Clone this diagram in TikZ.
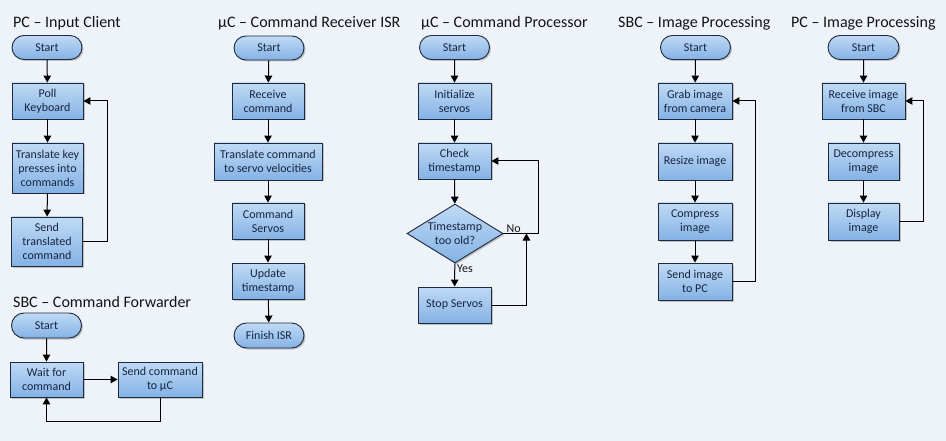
\documentclass[tikz,border=0pt]{standalone}
\usepackage{fontspec}
\setmainfont{Carlito}
\usetikzlibrary{shapes.misc,shapes.geometric,arrows.meta,shadows}
\definecolor{bgc}{HTML}{EEF2F9}
\definecolor{topc}{HTML}{C0DAF5}
\definecolor{botc}{HTML}{84B2E5}
\definecolor{edgec}{HTML}{1F2B3D}
\definecolor{txtc}{HTML}{172540}
\definecolor{titc}{HTML}{141414}
\tikzset{
  base/.style={draw=edgec, line width=0.9pt, top color=topc, bottom color=botc,
    text=txtc, font=\fontsize{12}{14}\selectfont, align=center, inner sep=1pt,
    drop shadow={shadow xshift=1.5pt, shadow yshift=-1.5pt, opacity=0.35, fill=black!60}},
  bx/.style={base, rectangle, minimum width=72pt, minimum height=36pt},
  term/.style={base, rounded rectangle, minimum width=72pt, minimum height=24pt},
  dia/.style={base, diamond, shape aspect=1.63, minimum width=96pt, minimum height=59pt, inner sep=-1.5pt},
  title/.style={anchor=west, text=titc, font=\fontsize{16}{19}\selectfont, inner sep=0pt},
  lbl/.style={text=titc, font=\fontsize{12}{14}\selectfont, inner sep=1pt},
  arr/.style={-{Triangle[length=7pt,width=7.5pt]}, line width=1pt, black},
}
\begin{document}
\begin{tikzpicture}[x=1pt,y=-1pt]
\fill[bgc] (0,0) rectangle (946,441);
\useasboundingbox (0,0) rectangle (946,441);

% ---------- PC - Input Client
\node[title] (t1) at (13,23) {PC -- Input Client};
\node[term] (a0) at (47,47.5) {Start};
\node[bx, minimum width=71pt] (a1) at (47.5,101) {Poll\\Keyboard};
\node[bx, minimum width=71pt, minimum height=50pt] (a2) at (47.5,168) {Translate key\\presses into\\commands};
\node[bx, minimum width=71pt, minimum height=49pt] (a3) at (47,241.5) {Send\\translated\\command};
\draw[arr] (a0) -- (a1);
\draw[arr] (a1) -- (a2);
\draw[arr] (a2) -- (a3);
\draw[arr] (a3.east) -- ([xshift=25pt]a3.east) |- (a1.east);

% ---------- SBC - Command Forwarder
\node[title] (t6) at (13,302) {SBC -- Command Forwarder};
\node[term, minimum height=25pt] (f0) at (46.5,325.5) {Start};
\node[bx, minimum width=73pt, minimum height=35pt] (f1) at (46.5,379.5) {Wait for\\command};
\node[bx, minimum width=84pt, minimum height=35pt] (f2) at (160,379.5) {Send command\\to µC};
\draw[arr] (f0) -- (f1);
\draw[arr] (f1) -- (f2);
\draw[arr] (f2.south) -- ([yshift=-24pt]f2.south) -| (f1.south);

% ---------- uC - Command Receiver ISR
\node[title] (t2) at (218,23) {µC -- Command Receiver ISR};
\node[term] (b0) at (269,48) {Start};
\node[bx] (b1) at (268,101) {Receive\\command};
\node[bx, minimum width=108pt, minimum height=37pt] (b2) at (268,161.5) {Translate command\\to servo velocities};
\node[bx] (b3) at (268,221) {Command\\Servos};
\node[bx] (b4) at (268,281) {Update\\timestamp};
\node[term, minimum height=25pt] (b5) at (269,335.5) {Finish ISR};
\draw[arr] (b0) -- (b1);
\draw[arr] (b1) -- (b2);
\draw[arr] (b2) -- (b3);
\draw[arr] (b3) -- (b4);
\draw[arr] (b4) -- (b5);

% ---------- uC - Command Processor
\node[title] (t3) at (421,23) {µC -- Command Processor};
\node[term] (c0) at (454.5,47.5) {Start};
\node[bx, minimum width=73pt] (c1) at (454.5,101) {Initialize\\servos};
\node[bx, minimum width=73pt] (c2) at (454.5,161) {Check\\timestamp};
\node[dia] (c3) at (455,233.5) {Timestamp\\too old?};
\node[bx, minimum width=73pt] (c4) at (454.5,305) {Stop Servos};
\draw[arr] (c0) -- (c1);
\draw[arr] (c1) -- (c2);
\draw[arr] (c2) -- (c3);
\draw[arr] (c3) -- (c4);
\node[lbl, anchor=north west] (yes) at ([xshift=1pt]c3.south) {Yes};
\draw[arr] (c3.east) -- ([xshift=35pt]c3.east) |- (c2.east);
\node[lbl, anchor=south west] (no) at ([xshift=2pt,yshift=-0.5pt]c3.east) {No};
\coordinate (cj) at ([xshift=23pt]c3.east);
\draw[arr] (c4.east) -| (cj);

% ---------- SBC - Image Processing
\node[title] (t4) at (618,23) {SBC -- Image Processing};
\node[term] (d0) at (695.5,47.5) {Start};
\node[bx, minimum width=74pt] (d1) at (695,101) {Grab image\\from camera};
\node[bx, minimum width=74pt, minimum height=37pt] (d2) at (695,161.5) {Resize image};
\node[bx, minimum width=74pt, minimum height=37pt] (d3) at (695,221.5) {Compress\\image};
\node[bx, minimum width=74pt, minimum height=37pt] (d4) at (695,281.5) {Send image\\to PC};
\draw[arr] (d0) -- (d1);
\draw[arr] (d1) -- (d2);
\draw[arr] (d2) -- (d3);
\draw[arr] (d3) -- (d4);
\draw[arr] (d4.east) -- ([xshift=23pt]d4.east) |- (d1.east);

% ---------- PC - Image Processing
\node[title] (t5) at (791,23) {PC -- Image Processing};
\node[term, minimum width=73pt] (e0) at (863.5,47.5) {Start};
\node[bx, minimum width=83pt] (e1) at (863.5,101) {Receive image\\from SBC};
\node[bx, minimum width=71pt, minimum height=37pt] (e2) at (863.5,161.5) {Decompress\\image};
\node[bx, minimum width=71pt, minimum height=37pt] (e3) at (863.5,221.5) {Display\\image};
\draw[arr] (e0) -- (e1);
\draw[arr] (e1) -- (e2);
\draw[arr] (e2) -- (e3);
\draw[arr] (e3.east) -- ([xshift=24pt]e3.east) |- (e1.east);
\end{tikzpicture}
\end{document}
